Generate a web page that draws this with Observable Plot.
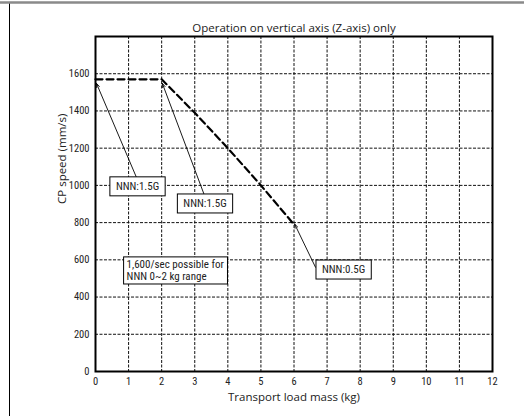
<!DOCTYPE html>
<html>
<head>
<meta charset="utf-8">
<script src="https://cdn.jsdelivr.net/npm/d3@7"></script>
<script src="https://cdn.jsdelivr.net/npm/@observablehq/plot@0.6"></script>
<style>
  html, body { margin: 0; padding: 0; background: #fff; }
  #chart svg { display: block; }
</style>
</head>
<body>
<div id="chart"></div>
<script>
// ---- data ----
const massTicks = [0, 1, 2, 3, 4, 5, 6, 7, 8, 9, 10, 11, 12];
const speedTicks = [0, 200, 400, 600, 800, 1000, 1200, 1400, 1600];
const gridX = [1, 2, 3, 4, 5, 6, 7, 8, 9, 10, 11];
const gridY = [200, 400, 600, 800, 1000, 1200, 1400, 1600];
const lineMass = [0, 2, 3, 4, 5, 6];
const lineSpeed = [1570, 1570, 1390, 1200, 1000, 790];
const labelText = ["NNN:1.5G", "NNN:1.5G", "NNN:0.5G"];
const labelMass = [1.27, 3.31, 7.5];
const labelSpeed = [995, 903, 548];
const arrowFromMass = [1.24, 3.29, 6.65];
const arrowFromSpeed = [1042, 948, 560];
const arrowToMass = [0.03, 2.02, 6.02];
const arrowToSpeed = [1548, 1548, 792];
const noteText = "1,600/sec possible for\nNNN 0~2 kg range";
const noteMass = 0.94;
const noteSpeed = 545;
const titleText = "Operation on vertical axis (Z-axis) only";
const xLabel = "Transport load mass (kg)";
const yLabel = "CP speed (mm/s)";

const lineData = lineMass.map((m, i) => ({m, s: lineSpeed[i]}));
const labels = labelText.map((t, i) => ({t, m: labelMass[i], s: labelSpeed[i]}));
const arrows = arrowFromMass.map((m, i) => ({x1: m, y1: arrowFromSpeed[i], x2: arrowToMass[i], y2: arrowToSpeed[i]}));

const FONT = "'Liberation Sans Narrow', 'Roboto Condensed', Roboto, sans-serif";
const FONT2 = "'Open Sans', sans-serif";

const chart = Plot.plot({
  width: 524,
  height: 416,
  marginLeft: 95,
  marginRight: 32,
  marginTop: 36,
  marginBottom: 45,
  style: {fontFamily: FONT, fontSize: "10.5px", color: "#222", background: "#fff"},
  x: {domain: [0, 12], ticks: massTicks, tickFormat: d => String(d), tickSize: 0, tickPadding: 6, label: null},
  y: {domain: [0, 1800], ticks: speedTicks, tickFormat: d => String(d), tickSize: 0, tickPadding: 6, label: null},
  marks: [
    Plot.ruleX(gridX, {stroke: "#111", strokeWidth: 1, strokeDasharray: "3,1.5"}),
    Plot.ruleY(gridY, {stroke: "#111", strokeWidth: 1, strokeDasharray: "3,1.5"}),
    Plot.frame({stroke: "#000", strokeWidth: 2}),
    Plot.line(lineData, {x: "m", y: "s", stroke: "#000", strokeWidth: 2.2, strokeDasharray: "7,4"}),
    Plot.arrow(arrows, {x1: "x1", y1: "y1", x2: "x2", y2: "y2", stroke: "#000", strokeWidth: 0.9, headLength: 7, headAngle: 40}),
    Plot.text(labels, {x: "m", y: "s", text: "t", fontFamily: FONT, fontSize: 11, fill: "#222", className: "boxed"}),
    Plot.text([noteText], {x: noteMass, y: noteSpeed, text: d => d, textAnchor: "start", lineHeight: 1.1, fontFamily: FONT, fontSize: 11, fill: "#222", className: "boxed-note"}),
    Plot.text([titleText], {frameAnchor: "top", dy: -13, text: d => d, fontFamily: FONT2, fontSize: 11.5, fill: "#222"}),
    Plot.text([xLabel], {frameAnchor: "bottom", dy: 29, text: d => d, fontFamily: FONT2, fontSize: 11.5, fill: "#222"}),
    Plot.text([yLabel], {frameAnchor: "left", dx: -33, rotate: -90, text: d => d, fontFamily: FONT2, fontSize: 11.5, fill: "#222"})
  ]
});

document.getElementById("chart").appendChild(chart);

// decorative page border (top gray rule, left black rule)
const svg = d3.select(chart);
svg.insert("line", ":first-child").attr("x1", 0).attr("x2", 524).attr("y1", 2.5).attr("y2", 2.5).attr("stroke", "#8a8a8a").attr("stroke-width", 2.5);
svg.insert("line", ":first-child").attr("x1", 9.5).attr("x2", 9.5).attr("y1", 2).attr("y2", 416).attr("stroke", "#000").attr("stroke-width", 1);

// boxes behind label texts
function boxify(cls, padX, padY) {
  svg.selectAll("g." + cls + " text").each(function() {
    const b = this.getBBox();
    const t = this.getAttribute("transform");
    const r = d3.select(this.parentNode).insert("rect", () => this)
      .attr("x", b.x - padX).attr("y", b.y - padY)
      .attr("width", b.width + 2 * padX).attr("height", b.height + 2 * padY)
      .attr("fill", "#fff").attr("stroke", "#000").attr("stroke-width", 1);
    if (t) r.attr("transform", t);
  });
}
boxify("boxed", 6, 3);
boxify("boxed-note", 3, 1);
</script>
</body>
</html>
